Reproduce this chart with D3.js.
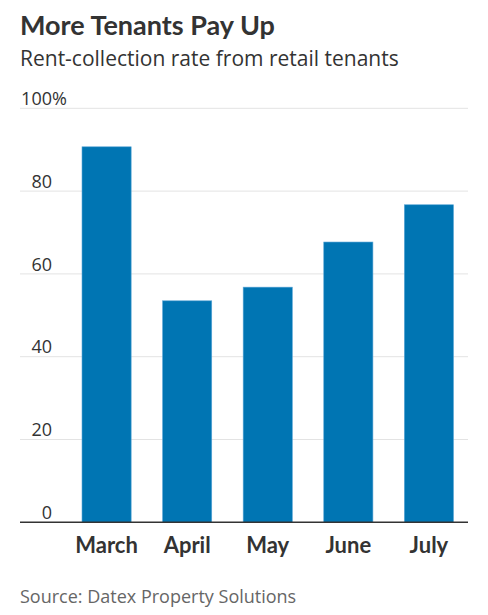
<!DOCTYPE html>
<html>
<head>
<meta charset="utf-8">
<script src="https://cdn.jsdelivr.net/npm/d3@7"></script>
<style>
  html, body { margin: 0; padding: 0; background: #fff; }
  svg { display: block; font-family: Lato, "Noto Sans", sans-serif; }
  .light { font-family: "Open Sans", Lato, sans-serif; }
</style>
</head>
<body>
<svg id="chart" width="488" height="615"></svg>
<script>
var months = ["March", "April", "May", "June", "July"];
var rates = [90.7, 53.5, 56.8, 67.7, 76.7];
var ticks = [0, 20, 40, 60, 80, 100];

var svg = d3.select('#chart');

var plotLeft = 20, plotRight = 468, plotTop = 108.3, plotBottom = 522.3;

var x = d3.scaleBand()
  .domain(months)
  .range([67.5, plotRight])
  .paddingInner(0.39)
  .paddingOuter(0.18);

var y = d3.scaleLinear()
  .domain([0, 100])
  .range([plotBottom, plotTop]);

/* titles */
svg.append('text')
  .attr('x', 20).attr('y', 35)
  .style('font-size', '27px').style('font-weight', 'bold')
  .style('fill', '#333')
  .text('More Tenants Pay Up');

svg.append('text')
  .attr('class', 'light')
  .attr('x', 20).attr('y', 66)
  .style('font-size', '21px')
  .style('fill', '#333')
  .text('Rent-collection rate from retail tenants');

/* grid */
var grid = svg.append('g');
grid.selectAll('line')
  .data(ticks.filter(d => d > 0))
  .enter()
  .append('line')
  .attr('x1', plotLeft).attr('x2', plotRight)
  .attr('y1', d => y(d)).attr('y2', d => y(d))
  .style('stroke', '#e3e3e3')
  .style('stroke-width', 1);

grid.selectAll('text')
  .data(ticks)
  .enter()
  .append('text')
  .attr('class', 'light')
  .attr('x', 52)
  .attr('y', d => y(d) - 3.4)
  .attr('text-anchor', 'end')
  .style('font-size', '18px')
  .style('fill', '#333')
  .text(d => d);

svg.append('text')
  .attr('class', 'light')
  .attr('x', 52).attr('y', y(100) - 3.4)
  .style('font-size', '18px')
  .style('fill', '#333')
  .text('%');

/* bars */
svg.append('g')
  .selectAll('rect')
  .data(rates)
  .enter()
  .append('rect')
  .attr('x', (d, i) => x(months[i]))
  .attr('y', d => y(d))
  .attr('width', x.bandwidth())
  .attr('height', d => y(0) - y(d))
  .style('fill', '#0075b3')
  .style('stroke', '#5aa6d6')
  .style('stroke-width', 0.6);

/* baseline */
svg.append('line')
  .attr('x1', plotLeft).attr('x2', plotRight)
  .attr('y1', y(0)).attr('y2', y(0))
  .style('stroke', '#333')
  .style('stroke-width', 1.5);

/* x labels */
svg.append('g')
  .selectAll('text')
  .data(months)
  .enter()
  .append('text')
  .attr('x', d => x(d) + x.bandwidth() / 2)
  .attr('y', 553)
  .attr('text-anchor', 'middle')
  .style('font-size', '22px').style('font-weight', 'bold')
  .style('fill', '#333')
  .text(d => d);

svg.append('text')
  .attr('class', 'light')
  .attr('x', 20).attr('y', 603)
  .style('font-size', '18px')
  .style('fill', '#666')
  .text('Source: Datex Property Solutions');
</script>
</body>
</html>
